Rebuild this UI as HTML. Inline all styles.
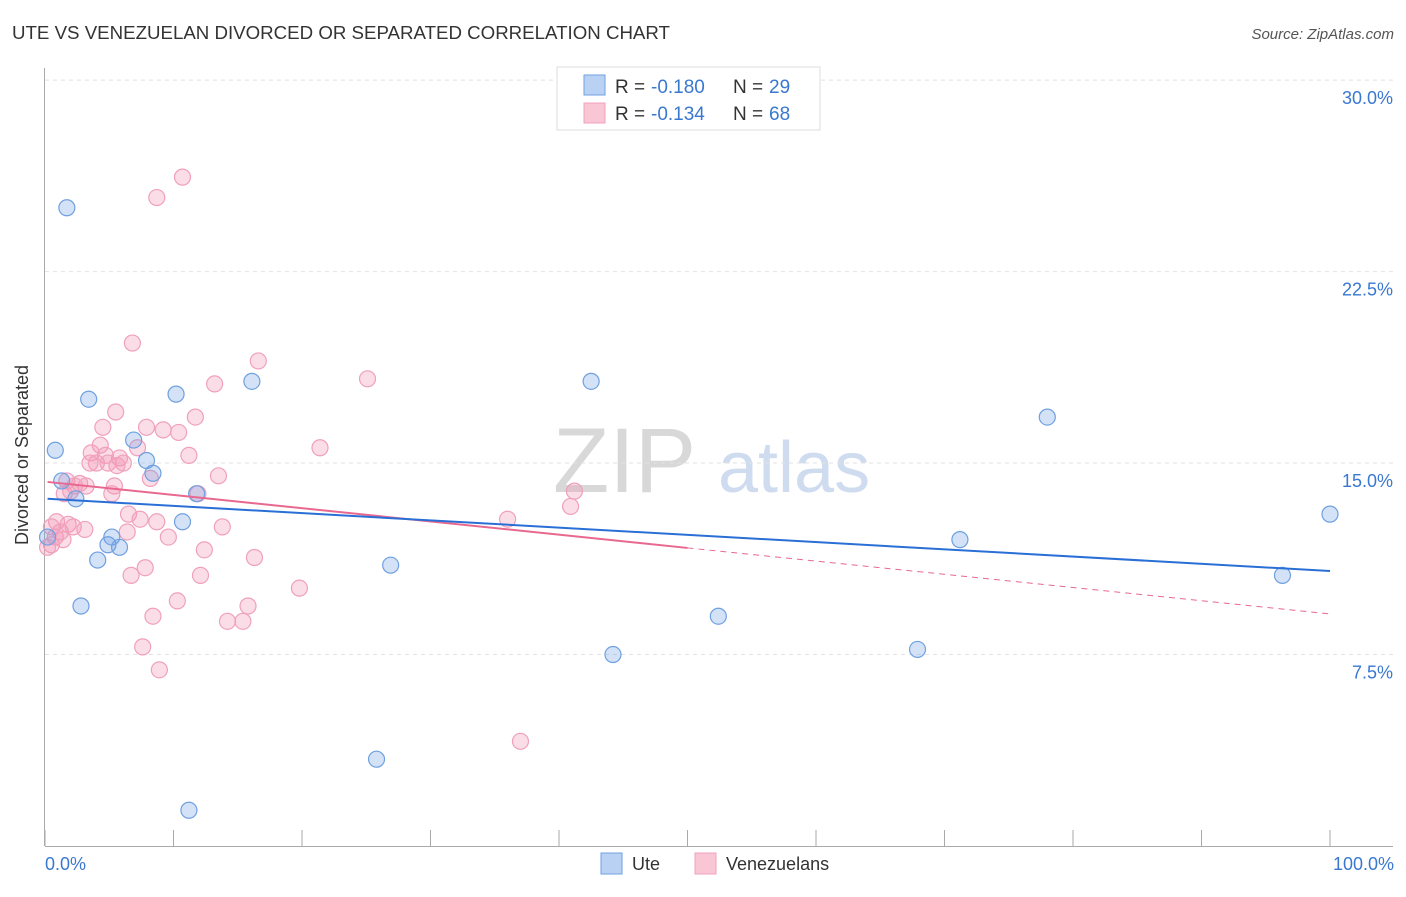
<!DOCTYPE html>
<html><head><meta charset="utf-8"><style>
body{margin:0;background:#fff;font-family:"Liberation Sans",sans-serif;}
svg text{font-family:"Liberation Sans",sans-serif;}
</style></head><body>
<svg id="chart" width="1406" height="892">
<text x="12" y="39" font-size="18.7" fill="#333">UTE VS VENEZUELAN DIVORCED OR SEPARATED CORRELATION CHART</text>
<text x="1394" y="39" font-size="15" fill="#555" font-style="italic" text-anchor="end">Source: ZipAtlas.com</text>
<g>
<text x="553" y="492" font-size="92" font-family="Liberation Serif" fill="#d8d8d8">ZIP</text>
<text x="718" y="492" font-size="72" fill="#cfdcf0">atlas</text>
</g>
<g id="grid"></g>
<g id="axes"></g>
<g id="marks"></g>
<text x="28" y="455" font-size="18" fill="#333" text-anchor="middle" transform="rotate(-90 28 455)">Divorced or Separated</text>
<text x="45" y="870" font-size="18" fill="#3a78d0">0.0%</text>
<text x="1394" y="870" font-size="18" fill="#3a78d0" text-anchor="end">100.0%</text>
<g>
<rect x="557" y="67" width="263" height="63" fill="#fff" stroke="#ddd"/>
<rect x="584" y="75" width="21" height="20" fill="#b9d2f3" stroke="#6fa0e0"/>
<rect x="584" y="103" width="21" height="20" fill="#f9c6d6" stroke="#f0a0bc"/>
<text x="615" y="93" font-size="19" fill="#333">R =</text>
<text x="651" y="93" font-size="19" fill="#3a78d0">-0.180</text>
<text x="733" y="93" font-size="19" fill="#333">N =</text>
<text x="769" y="93" font-size="19" fill="#3a78d0">29</text>
<text x="615" y="120" font-size="19" fill="#333">R =</text>
<text x="651" y="120" font-size="19" fill="#3a78d0">-0.134</text>
<text x="733" y="120" font-size="19" fill="#333">N =</text>
<text x="769" y="120" font-size="19" fill="#3a78d0">68</text>
</g>
<g>
<rect x="601" y="853" width="21" height="21" fill="#b9d2f3" stroke="#6fa0e0"/>
<text x="632" y="870" font-size="18" fill="#333">Ute</text>
<rect x="695" y="853" width="21" height="21" fill="#f9c6d6" stroke="#f0a0bc"/>
<text x="726" y="870" font-size="18" fill="#333">Venezuelans</text>
</g>
</svg>
<script>
const yTicks=[7.5,15,22.5,30];
const yTickLabels=["7.5%","15.0%","22.5%","30.0%"];
const xTicks=[0,10,20,30,40,50,60,70,80,90,100];
const uteX=[1.7,0.8,3.4,1.3,2.4,4.1,2.8,4.9,5.2,5.8,6.9,7.9,8.4,10.2,10.7,11.8,11.2,16.1,25.8,26.9,42.5,44.2,52.4,67.9,71.2,78.0,96.3,100,0.2];
const uteY=[25.0,15.5,17.5,14.3,13.6,11.2,9.4,11.8,12.1,11.7,15.9,15.1,14.6,17.7,12.7,13.8,1.4,18.2,3.4,11.0,18.2,7.5,9.0,7.7,12.0,16.8,10.6,13.0,12.1];
const venX=[10.7,8.7,6.8,16.6,25.1,13.2,5.5,11.7,4.5,7.9,9.2,10.4,7.2,4.3,21.4,3.6,4.7,5.8,11.2,3.5,4.0,4.9,6.1,5.6,8.2,13.5,1.7,2.7,3.2,2.3,5.4,1.5,2.0,5.2,11.9,41.2,40.9,6.5,36.0,0.9,1.8,0.5,1.2,2.2,8.7,13.8,6.4,9.6,0.8,0.5,0.2,12.4,16.3,7.8,6.7,12.1,19.8,15.8,10.3,8.4,14.2,15.4,7.6,8.9,37.0,1.4,3.1,7.4];
const venY=[26.2,25.4,19.7,19.0,18.3,18.1,17.0,16.8,16.4,16.4,16.3,16.2,15.6,15.7,15.6,15.4,15.3,15.2,15.3,15.0,15.0,15.0,15.0,14.9,14.4,14.5,14.3,14.2,14.1,14.1,14.1,13.8,13.9,13.8,13.8,13.9,13.3,13.0,12.8,12.7,12.6,12.5,12.3,12.5,12.7,12.5,12.3,12.1,12.1,11.8,11.7,11.6,11.3,10.9,10.6,10.6,10.1,9.4,9.6,9.0,8.8,8.8,7.8,6.9,4.1,12.0,12.4,12.8];
const uteTrend=[13.6,10.77];
const venTrend=[14.26,9.09];
const venSolidEnd=50;
const NS="http://www.w3.org/2000/svg";
function sx(v){return 45+v*12.85;}
function sy(v){return 846-v*25.53;}
function mk(tag,attrs,parent){const e=document.createElementNS(NS,tag);for(const k in attrs)e.setAttribute(k,attrs[k]);parent.appendChild(e);return e;}
const grid=document.getElementById('grid'),axes=document.getElementById('axes'),marks=document.getElementById('marks');
yTicks.forEach((t,i)=>{
 const l=mk('line',{x1:45,x2:1393,y1:sy(t),y2:sy(t),stroke:'#e2e2e2','stroke-dasharray':'4 4'},grid);
 
 
 const tx=mk('text',{x:1393,y:sy(t)+24,'font-size':18,fill:'#3a78d0','text-anchor':'end'},grid);
 tx.textContent=yTickLabels[i];
 
 
});
let a=mk('line',{x1:44.5,x2:44.5,y1:68,y2:846,stroke:'#aaa'},axes);


a=mk('line',{x1:45,x2:1393,y1:846.5,y2:846.5,stroke:'#aaa'},axes);


xTicks.forEach(t=>{
 const l=mk('line',{x1:sx(t),x2:sx(t),y1:830,y2:846,stroke:'#aaa'},axes);
 
 
});
venX.forEach((x,i)=>{
 const c=mk('circle',{cx:sx(x),cy:sy(venY[i]),r:8,fill:'rgba(242,150,180,0.32)',stroke:'#f0a0bc','stroke-width':1.2},marks);
 
 
});
uteX.forEach((x,i)=>{
 const c=mk('circle',{cx:sx(x),cy:sy(uteY[i]),r:8,fill:'rgba(110,160,230,0.3)',stroke:'#6fa0e0','stroke-width':1.2},marks);
 
 
});
const vMid=venTrend[0]+(venTrend[1]-venTrend[0])*venSolidEnd/100;
let t=mk('line',{x1:sx(0.2),y1:sy(venTrend[0]),x2:sx(venSolidEnd),y2:sy(vMid),stroke:'#e8688f','stroke-width':2},marks);


t=mk('line',{x1:sx(venSolidEnd),y1:sy(vMid),x2:sx(100),y2:sy(venTrend[1]),stroke:'#e8688f','stroke-width':1,'stroke-dasharray':'6 5'},marks);


t=mk('line',{x1:sx(0.2),y1:sy(uteTrend[0]),x2:sx(100),y2:sy(uteTrend[1]),stroke:'#2a6fd6','stroke-width':2},marks);


</script>
</body></html>
